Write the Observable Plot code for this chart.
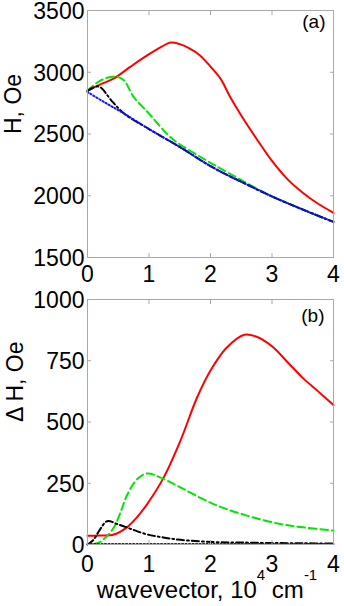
<!DOCTYPE html>
<html><head><meta charset="utf-8">
<script src="https://cdn.jsdelivr.net/npm/d3@7"></script>
<script src="https://cdn.jsdelivr.net/npm/@observablehq/plot@0.6"></script>
<style>
html,body{margin:0;padding:0;background:#fff;}
#chart{width:344px;height:606px;overflow:hidden;}
svg{display:block;}
</style></head><body><div id="chart"></div>
<script>
// ---- Panel (a): resonance field H (Oe) vs wavevector (10^4 cm^-1)
const kRedA   = [0, 0.2, 0.43, 0.7, 0.97, 1.2, 1.35, 1.5, 1.65, 1.83, 2.0, 2.16, 2.32, 2.5, 2.75, 3.0, 3.25, 3.5, 3.75, 4.0];
const hRedA   = [2850, 2900, 2950, 3045, 3136, 3205, 3240, 3228, 3195, 3136, 3045, 2950, 2800, 2650, 2460, 2282, 2135, 2025, 1935, 1862];
const kGreenA = [0, 0.21, 0.45, 0.59, 0.75, 1.0, 1.29, 1.45, 1.89, 2.27, 2.8, 3.0, 3.5, 4.0];
const hGreenA = [2850, 2933, 2966, 2935, 2800, 2665, 2502, 2434, 2299, 2191, 2045, 1996, 1890, 1788];
const kBlackA = [0, 0.18, 0.4, 0.6, 1.0, 1.5, 2.0, 2.32, 2.5, 3.0, 3.5, 4.0];
const hBlackA = [2848, 2885, 2764, 2664, 2540, 2395, 2240, 2156, 2113, 1994, 1888, 1788];
const kBlueA  = [0, 0.3, 0.6, 1.0, 1.5, 2.0, 2.32, 2.5, 3.0, 3.5, 4.0];
const hBlueA  = [2840, 2750, 2664, 2540, 2395, 2240, 2156, 2113, 1994, 1888, 1788];

// ---- Panel (b): linewidth ΔH (Oe) vs wavevector
const kRedB   = [0, 0.2, 0.43, 0.64, 0.8, 0.97, 1.24, 1.51, 1.78, 2.0, 2.25, 2.55, 2.75, 3.0, 3.25, 3.5, 3.75, 4.0];
const dRedB   = [36, 37, 41, 70, 110, 165, 274, 423, 599, 710, 800, 856, 848, 809, 745, 680, 625, 569];
const kGreenB = [0.1, 0.2, 0.3, 0.43, 0.55, 0.64, 0.81, 0.97, 1.18, 1.51, 2.05, 2.59, 3.13, 3.5, 4.0];
const dGreenB = [2, 10, 30, 70, 140, 200, 267, 290, 274, 233, 165, 118, 84, 70, 57];
const kBlackB = [0, 0.1, 0.2, 0.32, 0.5, 0.7, 0.97, 1.25, 1.51, 2.05, 2.5, 3.0, 3.5, 4.0];
const dBlackB = [0, 20, 60, 95, 82, 64, 41, 28, 19, 10, 8, 6, 5, 4];
const kBlueB  = [0, 1, 2, 3, 4];
const dBlueB  = [2, 2, 2, 2, 2];

const xTicks  = [0, 1, 2, 3, 4];
const yTicksA = [1500, 2000, 2500, 3000, 3500];
const yTicksB = [0, 250, 500, 750, 1000];
const panelTags = ["(a)", "(b)"];
const yLabels = ["H, Oe", "\u0394 H, Oe"];

const rows = (ks, vs) => ks.map((k, i) => ({k, v: vs[i]}));

const FONT = "Liberation Sans, Arial, Helvetica, sans-serif";
const FRAME = "#a9a9a9";

function lines(red, green, black, blue) {
  return [
    Plot.line(red,   {x: "k", y: "v", stroke: "#ff0000", strokeWidth: 2, curve: "catmull-rom"}),
    Plot.line(green, {x: "k", y: "v", stroke: "#00e600", strokeWidth: 2, strokeDasharray: "7.5,4", curve: "catmull-rom"}),
    Plot.line(black, {x: "k", y: "v", stroke: "#000000", strokeWidth: 2, strokeDasharray: "7,3,1.8,3", curve: "catmull-rom"}),
    Plot.line(blue,  {x: "k", y: "v", stroke: "#1010ff", strokeWidth: 2, strokeDasharray: "1.2,2.3", curve: "catmull-rom"})
  ];
}

function frameMarks(yTicks) {
  return [
    Plot.frame({stroke: FRAME}),
    Plot.axisX({anchor: "bottom", ticks: xTicks, tickSize: -4, fill: "none", stroke: FRAME, label: null}),
    Plot.axisX({anchor: "top", ticks: xTicks, tickSize: -4, fill: "none", stroke: FRAME, label: null}),
    Plot.axisY({anchor: "left", ticks: yTicks, tickSize: -4, fill: "none", stroke: FRAME, label: null}),
    Plot.axisY({anchor: "right", ticks: yTicks, tickSize: -4, fill: "none", stroke: FRAME, label: null})
  ];
}

const chart = document.getElementById("chart");

const plotA = Plot.plot({
  width: 344, height: 290,
  marginTop: 10, marginBottom: 33, marginLeft: 87, marginRight: 11,
  style: {fontFamily: FONT, fontSize: "23px", color: "#000", background: "#fff", overflow: "visible"},
  x: {domain: [0, 4]},
  y: {domain: [1500, 3500]},
  marks: [
    ...lines(rows(kRedA, hRedA), rows(kGreenA, hGreenA), rows(kBlackA, hBlackA), rows(kBlueA, hBlueA)),
    ...frameMarks(yTicksA),
    Plot.axisX({anchor: "bottom", ticks: xTicks, tickSize: 0, tickPadding: 8, tickFormat: "d", label: null, fontSize: 23}),
    Plot.axisY({anchor: "left", ticks: yTicksA, tickSize: 0, tickPadding: 3, tickFormat: "d", label: null, fontSize: 23, dy: 1}),
    Plot.text([panelTags[0]], {frameAnchor: "top-right", textAnchor: "end", lineAnchor: "top", dx: -8, dy: 4, fontSize: 19}),
    Plot.text([yLabels[0]], {frameAnchor: "left", rotate: -90, dx: -74, fontSize: 23})
  ]
});

const plotB = Plot.plot({
  width: 344, height: 316,
  marginTop: 9, marginBottom: 62, marginLeft: 87, marginRight: 11,
  style: {fontFamily: FONT, fontSize: "23px", color: "#000", background: "#fff", overflow: "visible"},
  x: {domain: [0, 4]},
  y: {domain: [0, 1000]},
  marks: [
    ...lines(rows(kRedB, dRedB), rows(kGreenB, dGreenB), rows(kBlackB, dBlackB), rows(kBlueB, dBlueB)),
    ...frameMarks(yTicksB),
    Plot.axisX({anchor: "bottom", ticks: xTicks, tickSize: 0, tickPadding: 11, tickFormat: "d", label: null, fontSize: 23}),
    Plot.axisY({anchor: "left", ticks: yTicksB, tickSize: 0, tickPadding: 3, tickFormat: "d", label: null, fontSize: 23, dy: 1}),
    Plot.text([panelTags[1]], {frameAnchor: "top-right", textAnchor: "end", lineAnchor: "top", dx: -9, dy: 9, fontSize: 19}),
    Plot.text([yLabels[1]], {frameAnchor: "left", rotate: -90, dx: -72, fontSize: 23})
  ]
});

chart.appendChild(plotA);
chart.appendChild(plotB);

// x-axis title with real superscripts
const t = d3.select(plotB).append("text")
  .attr("x", 207).attr("y", 308)
  .attr("text-anchor", "middle")
  .style("white-space", "pre")
  .attr("font-family", FONT).attr("font-size", 24).attr("fill", "#000");
t.append("tspan").text("wavevector, 10");
t.append("tspan").attr("font-size", 15).attr("dy", -18).text("4");
t.append("tspan").attr("dy", 18).text("\u00a0cm");
t.append("tspan").attr("font-size", 15).attr("dy", -18).text("-1");
</script></body></html>
